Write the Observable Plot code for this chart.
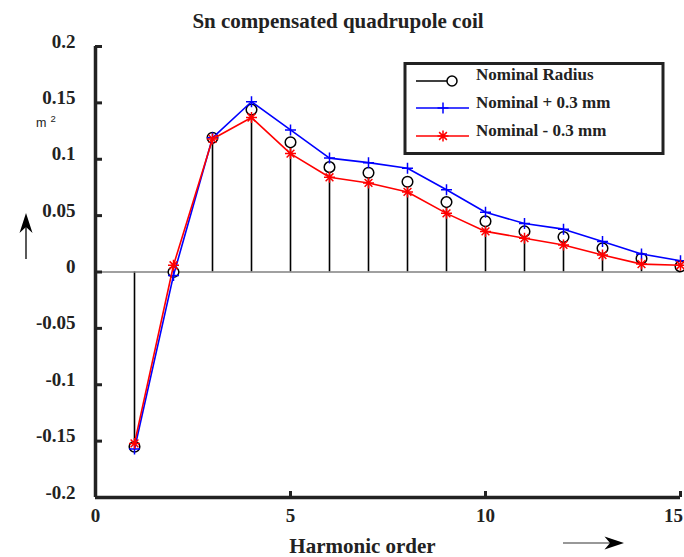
<!DOCTYPE html>
<html>
<head>
<meta charset="utf-8">
<script src="https://cdn.jsdelivr.net/npm/d3@7"></script>
<script src="https://cdn.jsdelivr.net/npm/@observablehq/plot@0.6"></script>
<style>
  html, body { margin: 0; padding: 0; background: #fff; }
  #chart { width: 684px; height: 557px; }
</style>
</head>
<body>
<div id="chart"></div>
<script>
// Harmonic coefficients of the Sn compensated quadrupole coil
const harmonics = [1, 2, 3, 4, 5, 6, 7, 8, 9, 10, 11, 12, 13, 14, 15];
const nominal   = [-0.155, 0.000, 0.119, 0.144, 0.115, 0.093, 0.088, 0.080, 0.062, 0.045, 0.036, 0.031, 0.021, 0.012, 0.005];
const plus03    = [-0.157, -0.003, 0.119, 0.151, 0.126, 0.101, 0.097, 0.092, 0.073, 0.053, 0.043, 0.038, 0.027, 0.016, 0.010];
const minus03   = [-0.152, 0.006, 0.118, 0.137, 0.105, 0.084, 0.079, 0.071, 0.052, 0.036, 0.030, 0.024, 0.015, 0.007, 0.006];

const seriesNames  = ["Nominal Radius", "Nominal + 0.3 mm", "Nominal - 0.3 mm"];
const seriesColors = ["#000000", "#0000ff", "#ff0000"];

const xTicks = [0, 5, 10, 15];
const xTickLabels = ["0", "5", "10", "15"];
const yTicks = [-0.2, -0.15, -0.1, -0.05, 0, 0.05, 0.1, 0.15, 0.2];
const yTickLabels = ["-0.2", "-0.15", "-0.1", "-0.05", "0", "0.05", "0.1", "0.15", "0.2"];

const titleText = "Sn compensated quadrupole coil";
const xLabelText = "Harmonic order";

const rows = harmonics.map((h, i) => ({h, nominal: nominal[i], plus: plus03[i], minus: minus03[i]}));

// Stroke-only marker shapes ("+" and "*")
const plusSymbol = {
  draw(ctx, size) {
    const r = Math.sqrt(size / Math.PI);
    ctx.moveTo(-r, 0); ctx.lineTo(r, 0);
    ctx.moveTo(0, -r); ctx.lineTo(0, r);
  }
};
const starSymbol = {
  draw(ctx, size) {
    const r = Math.sqrt(size / Math.PI);
    const d = r * Math.SQRT1_2;
    ctx.moveTo(-r, 0); ctx.lineTo(r, 0);
    ctx.moveTo(0, -r); ctx.lineTo(0, r);
    ctx.moveTo(-d, -d); ctx.lineTo(d, d);
    ctx.moveTo(-d, d); ctx.lineTo(d, -d);
  }
};

const serif = '"Liberation Serif", "Times New Roman", Times, serif';
const ink = "#222";
const tickText = {fontSize: 19, fontWeight: "bold", fill: ink, label: null, tickSize: 0};

const lastTick = xTicks[xTicks.length - 1];

const chart = Plot.plot({
  width: 684,
  height: 557,
  marginLeft: 95,
  marginRight: 4,
  marginTop: 46,
  marginBottom: 60,
  x: {domain: [0, 15]},
  y: {domain: [-0.2, 0.2]},
  style: {fontFamily: serif, background: "#fff", overflow: "visible"},
  marks: [
    // stems of the nominal coefficients
    Plot.ruleX(rows, {x: "h", y1: 0, y2: "nominal", stroke: seriesColors[0], strokeWidth: 1.6}),
    // baseline
    Plot.ruleY([0], {stroke: "#808080", strokeWidth: 1.5}),
    Plot.dot(rows, {x: "h", y: "nominal", r: 5.3, stroke: seriesColors[0], fill: "#fff", strokeWidth: 1.5}),
    // +0.3 mm series
    Plot.line(rows, {x: "h", y: "plus", stroke: seriesColors[1], strokeWidth: 1.6}),
    Plot.dot(rows, {x: "h", y: "plus", symbol: plusSymbol, r: 5.5, stroke: seriesColors[1], strokeWidth: 1.5}),
    // -0.3 mm series
    Plot.line(rows, {x: "h", y: "minus", stroke: seriesColors[2], strokeWidth: 1.6}),
    Plot.dot(rows, {x: "h", y: "minus", symbol: starSymbol, r: 5.5, stroke: seriesColors[2], strokeWidth: 1.5}),
    // axis lines
    Plot.ruleX([0], {stroke: ink, strokeWidth: 3.5}),
    Plot.ruleY([-0.2], {stroke: ink, strokeWidth: 3.5}),
    // inward ticks
    Plot.axisX(xTicks, {tickSize: -6, strokeWidth: 3, stroke: ink, tickFormat: () => "", label: null}),
    Plot.axisY(yTicks, {tickSize: -7, strokeWidth: 3, stroke: ink, tickFormat: () => "", label: null}),
    // tick labels (the last one nudged to stay inside the page edge)
    Plot.axisX(xTicks.filter(d => d !== lastTick), {
      ...tickText, tickPadding: 11,
      tickFormat: d => xTickLabels[xTicks.indexOf(d)]
    }),
    Plot.axisX([lastTick], {
      ...tickText, tickPadding: 11, dx: -7,
      tickFormat: d => xTickLabels[xTicks.indexOf(d)]
    }),
    Plot.axisY(yTicks, {
      ...tickText, tickPadding: 20, dy: -5,
      tickFormat: d => yTickLabels[yTicks.indexOf(d)]
    })
  ]
});

document.getElementById("chart").appendChild(chart);

// Title, axis annotations and legend
const svg = d3.select(chart);

svg.append("text")
  .attr("x", 338).attr("y", 28)
  .attr("text-anchor", "middle")
  .attr("font-family", serif).attr("font-weight", "bold").attr("font-size", 21)
  .attr("fill", ink)
  .text(titleText);

svg.append("text")
  .attr("x", 362.5).attr("y", 553)
  .attr("text-anchor", "middle")
  .attr("font-family", serif).attr("font-weight", "bold").attr("font-size", 21)
  .attr("fill", ink)
  .text(xLabelText);

// unit label "m²"
const unit = svg.append("text")
  .attr("x", 36).attr("y", 127)
  .attr("text-anchor", "start")
  .attr("font-family", '"Liberation Sans", Arial, Helvetica, sans-serif')
  .attr("font-size", 12.5).attr("fill", ink);
unit.append("tspan").text("m");
unit.append("tspan").attr("dx", 4).attr("dy", -5.5).attr("font-size", 9.5).text("2");

// direction arrows
svg.append("line").attr("x1", 26).attr("y1", 259).attr("x2", 26).attr("y2", 226)
  .attr("stroke", "#000").attr("stroke-width", 1.3);
svg.append("path").attr("d", "M26,213 L19.5,233 L26,227 L32.5,233 Z").attr("fill", "#000");

svg.append("line").attr("x1", 563).attr("y1", 543).attr("x2", 612).attr("y2", 543)
  .attr("stroke", "#333").attr("stroke-width", 1.2);
svg.append("path").attr("d", "M624,543 L604.5,536.5 L610,543 L604.5,549.5 Z").attr("fill", "#000");

// legend
const lg = svg.append("g");
lg.append("rect").attr("x", 405).attr("y", 63.5).attr("width", 258).attr("height", 90)
  .attr("fill", "#fff").attr("stroke", ink).attr("stroke-width", 3);
const legendY = [81, 108, 136];
const textY = [81, 109, 137];
// Nominal Radius entry: stem-style line ending in a circle
lg.append("line").attr("x1", 416).attr("x2", 447).attr("y1", legendY[0]).attr("y2", legendY[0])
  .attr("stroke", seriesColors[0]).attr("stroke-width", 1.5);
lg.append("circle").attr("cx", 452).attr("cy", legendY[0]).attr("r", 5)
  .attr("fill", "none").attr("stroke", seriesColors[0]).attr("stroke-width", 1.5);
// +0.3 / -0.3 entries
[1, 2].forEach(k => {
  lg.append("line").attr("x1", 416).attr("x2", 469).attr("y1", legendY[k]).attr("y2", legendY[k])
    .attr("stroke", seriesColors[k]).attr("stroke-width", 1.6);
  const sym = k === 1 ? plusSymbol : starSymbol;
  lg.append("path")
    .attr("transform", `translate(443,${legendY[k]})`)
    .attr("d", d3.symbol(sym, 5.5 * 5.5 * Math.PI)())
    .attr("fill", "none").attr("stroke", seriesColors[k]).attr("stroke-width", 1.5);
});
seriesNames.forEach((name, k) => {
  lg.append("text")
    .attr("x", 476).attr("y", textY[k] - 1)
    .attr("text-anchor", "start")
    .attr("font-family", serif).attr("font-weight", "bold").attr("font-size", 17)
    .attr("fill", ink)
    .text(name);
});
</script>
</body>
</html>
